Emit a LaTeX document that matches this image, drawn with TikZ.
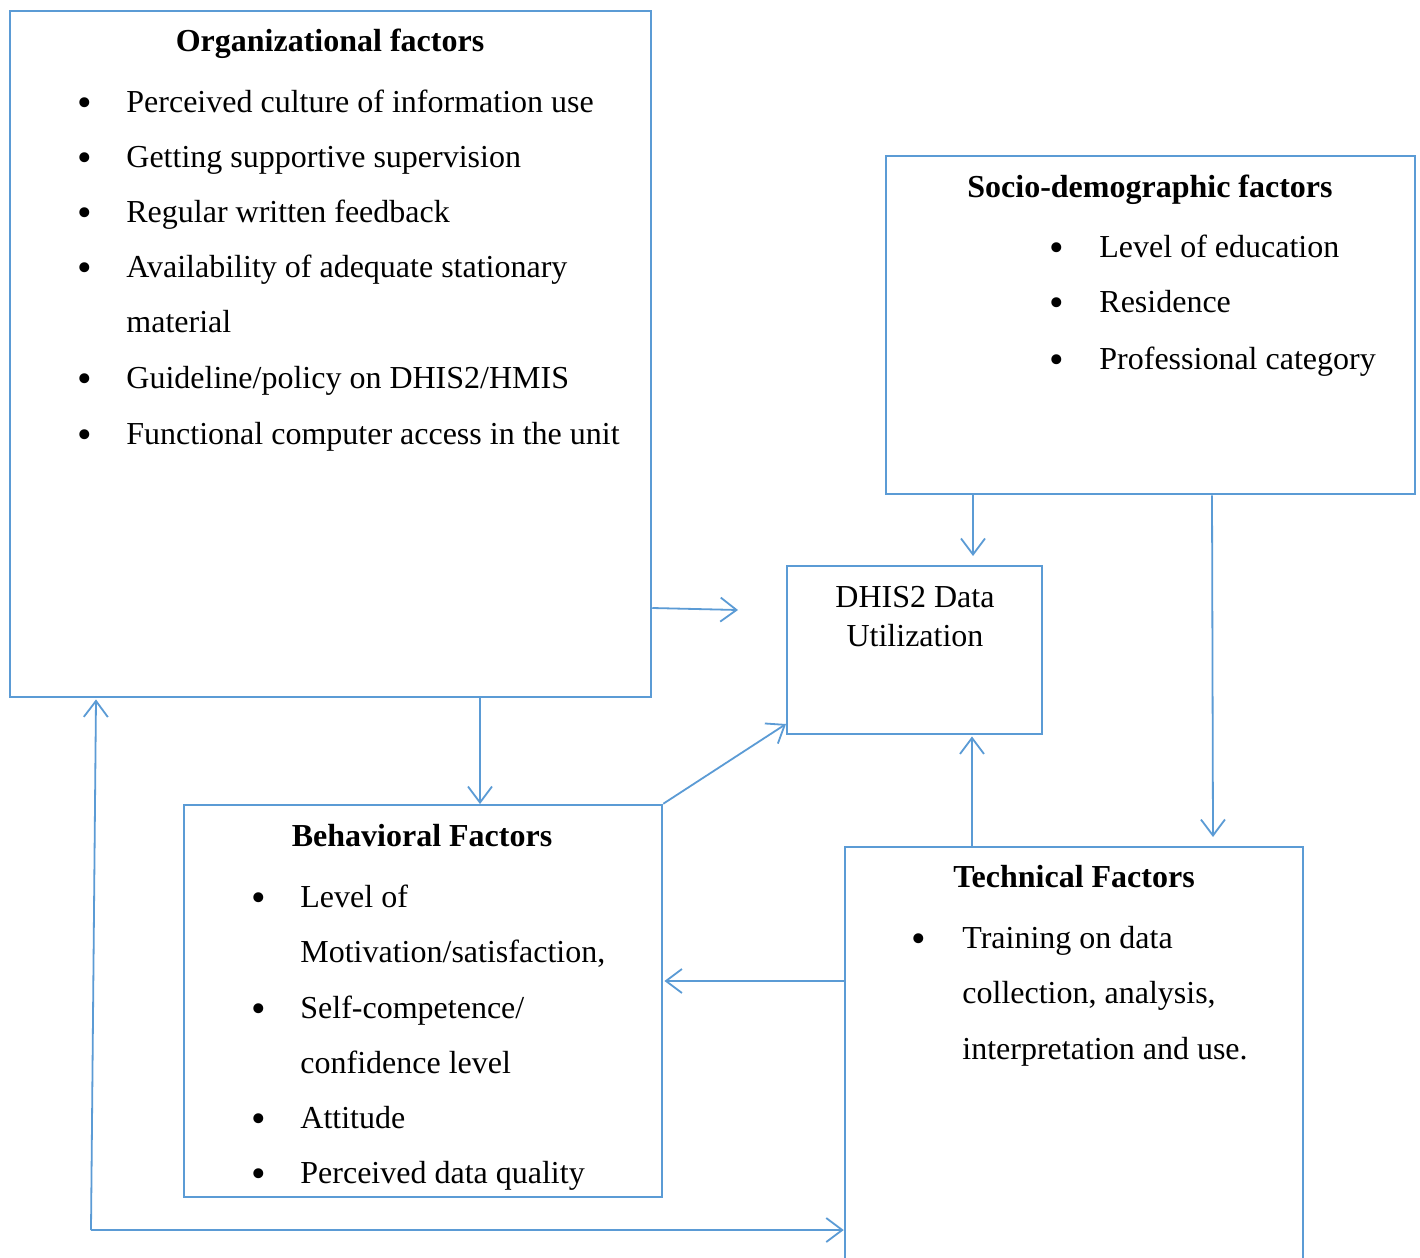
\documentclass[tikz,border=0pt]{standalone}
\usepackage{fontspec}
\setmainfont{Liberation Serif}
\usetikzlibrary{arrows.meta,fit}
\definecolor{lb}{HTML}{5B9BD5}
\newcommand{\bigbul}{\raisebox{-2.4pt}{\scalebox{1.3}{\textbullet}}}
\begin{document}
\begin{tikzpicture}[x=0.5pt,y=-0.5pt,
  box/.style={draw=lb,line width=1.25pt,inner sep=0pt},
  arr/.style={draw=lb,line width=0.9pt,-{Straight Barb[length=8pt,width=12pt]}},
  txt/.style={inner sep=0pt,anchor=base west,font=\fontsize{16}{19}\selectfont},
  ttl/.style={inner sep=0pt,anchor=base,font=\fontsize{16}{19}\selectfont\bfseries},
  bul/.style={inner sep=0pt,anchor=base,font=\fontsize{16}{19}\selectfont}]
\clip (0,0) rectangle (1420,1258);
\fill[white] (0,0) rectangle (1420,1258);

% boxes
\node[box,fit={(10,11) (651,697)}] (org) {};
\node[box,fit={(886,156) (1415,494)}] (soc) {};
\node[box,fit={(787,566) (1042,734)}] (dhis) {};
\node[box,fit={(184,805) (662,1197)}] (beh) {};
\node[box,fit={(845,847) (1303,1300)}] (tech) {};

% Organizational
\node[ttl] (ot) at (330,51) {Organizational factors};
\node[bul] (ob1) at (85,112) {\bigbul};
\node[txt] (o1) at (126,112) {Perceived culture of information use};
\node[bul] (ob2) at (85,167) {\bigbul};
\node[txt] (o2) at (126,167) {Getting supportive supervision};
\node[bul] (ob3) at (85,222) {\bigbul};
\node[txt] (o3) at (126,222) {Regular written feedback};
\node[bul] (ob4) at (85,277) {\bigbul};
\node[txt] (o4) at (126,277) {Availability of adequate stationary};
\node[txt] (o4b) at (126,332) {material};
\node[bul] (ob5) at (85,388) {\bigbul};
\node[txt] (o5) at (126,388) {Guideline/policy on DHIS2/HMIS};
\node[bul] (ob6) at (85,444) {\bigbul};
\node[txt] (o6) at (126,444) {Functional computer access in the unit};

% Socio-demographic
\node[ttl] (st) at (1150,197) {Socio-demographic factors};
\node[bul] (sb1) at (1057,257) {\bigbul};
\node[txt] (s1) at (1099,257) {Level of education};
\node[bul] (sb2) at (1057,312) {\bigbul};
\node[txt] (s2) at (1099,312) {Residence};
\node[bul] (sb3) at (1057,369) {\bigbul};
\node[txt] (s3) at (1099,369) {Professional category};

% DHIS2
\node[bul] (d1) at (915,607) {DHIS2 Data};
\node[bul] (d2) at (915,646) {Utilization};

% Behavioral
\node[ttl] (bt) at (422,846) {Behavioral Factors};
\node[bul] (bb1) at (259,907) {\bigbul};
\node[txt] (b1) at (300,907) {Level of};
\node[txt] (b1b) at (300,962) {Motivation/satisfaction,};
\node[bul] (bb2) at (259,1018) {\bigbul};
\node[txt] (b2) at (300,1018) {Self-competence/};
\node[txt] (b2b) at (300,1073) {confidence level};
\node[bul] (bb3) at (259,1128) {\bigbul};
\node[txt] (b3) at (300,1128) {Attitude};
\node[bul] (bb4) at (259,1183) {\bigbul};
\node[txt] (b4) at (300,1183) {Perceived data quality};

% Technical
\node[ttl] (tt) at (1074,887) {Technical Factors};
\node[bul] (tb1) at (919,948) {\bigbul};
\node[txt] (t1) at (962,948) {Training on data};
\node[txt] (t1b) at (962,1003) {collection, analysis,};
\node[txt] (t1c) at (962,1059) {interpretation and use.};

% connector free ends
\coordinate (e1) at (738,610);
\coordinate (e2) at (973,556);
\coordinate (e3) at (1213,837);
\coordinate (e4) at (480,804);
\coordinate (e5) at (786,724);
\coordinate (corner) at (91,1230);

% connectors
\draw[arr] (org.east |- 0,608) -- (e1);
\draw[arr] (soc.south -| 973,0) -- (e2);
\draw[arr] (soc.south -| 1212,0) -- (e3);
\draw[arr] (org.south -| 480,0) -- (e4);
\draw[arr] (beh.north east) -- (e5);
\draw[arr] (tech.north -| 972,0) -- ([yshift=-0.6pt]dhis.south -| 972,0);
\draw[arr] (tech.west |- 0,981) -- ([xshift=0.6pt]beh.east |- 0,981);
\draw[arr] (corner) -- ([yshift=-0.6pt]org.south -| 96,0);
\draw[arr] (corner) -- (tech.west |- 0,1230);
\end{tikzpicture}
\end{document}
